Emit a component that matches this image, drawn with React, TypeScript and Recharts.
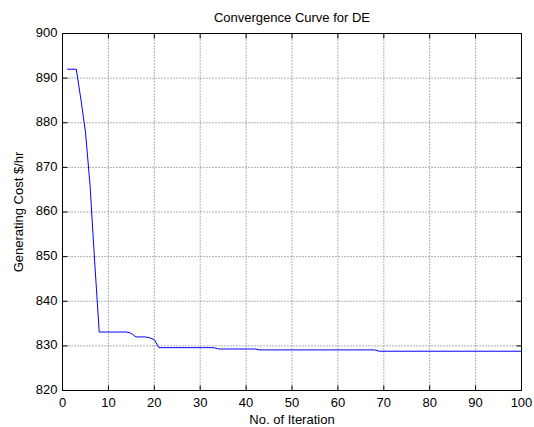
import { CartesianGrid, Label, Line, LineChart, XAxis, YAxis } from 'recharts';

// breakpoints of the convergence curve
const iterations = [1, 3, 4, 5, 6, 7, 8, 14, 15, 16, 18, 19, 20, 21, 33, 34, 42, 43, 68, 69, 100];
const costs = [
    892, 892, 885.3, 878, 866, 849, 833.1, 833.1, 832.8, 832.0, 832.0, 831.8, 831.4, 829.6, 829.6, 829.3, 829.3, 829.1, 829.1,
    828.8, 828.8,
];

const xTicks = [0, 10, 20, 30, 40, 50, 60, 70, 80, 90, 100];
const yTicks = [820, 830, 840, 850, 860, 870, 880, 890, 900];

const title = 'Convergence Curve for DE';
const xLabel = 'No. of Iteration';
const yLabel = 'Generating Cost $/hr';

const data = iterations.map((iteration, index) => ({ iteration, cost: costs[index] }));

const font = '"Liberation Sans", Arial, sans-serif';
const tickLen = 5;

function BottomTick({ x, y, payload }: any) {
    return (
        <g>
            <line x1={x} y1={y} x2={x} y2={y - tickLen} stroke="#000" />
            <text x={x} y={y + 13} dominantBaseline="middle" textAnchor="middle" fontSize={13} fill="#000" fontFamily={font}>
                {payload.value}
            </text>
        </g>
    );
}

function LeftTick({ x, y, payload }: any) {
    return (
        <g>
            <line x1={x} y1={y} x2={x + tickLen} y2={y} stroke="#000" />
            <text x={x - 5} y={y} dominantBaseline="middle" textAnchor="end" fontSize={13} fill="#000" fontFamily={font}>
                {payload.value}
            </text>
        </g>
    );
}

function TopTick({ x, y }: any) {
    return <line x1={x} y1={y} x2={x} y2={y + tickLen} stroke="#000" />;
}

function RightTick({ x, y }: any) {
    return <line x1={x} y1={y} x2={x - tickLen} y2={y} stroke="#000" />;
}

export default function App() {
    return (
        <div style={{ position: 'absolute', left: 0, top: 0, width: 534, height: 427, background: '#fff' }}>
            <LineChart width={534} height={427} data={data} margin={{ top: 0, right: 0, bottom: 0, left: 0 }}>
                <CartesianGrid xAxisId="x" yAxisId="y" stroke="#666" strokeDasharray="1 2" />
                <XAxis
                    xAxisId="x"
                    dataKey="iteration"
                    type="number"
                    domain={[0, 100]}
                    ticks={xTicks}
                    allowDataOverflow
                    height={36.5}
                    tickSize={0}
                    tickMargin={0}
                    tickLine={false}
                    axisLine={{ stroke: '#000' }}
                    tick={<BottomTick />}
                    interval={0}
                >
                    <Label
                        content={({ viewBox }: any) => (
                            <text
                                x={viewBox.x + viewBox.width / 2}
                                y={420.5}
                                dominantBaseline="middle"
                                textAnchor="middle"
                                fontSize={13}
                                fill="#000"
                                fontFamily={font}
                            >
                                {xLabel}
                            </text>
                        )}
                    />
                </XAxis>
                <XAxis
                    xAxisId="top"
                    orientation="top"
                    dataKey="iteration"
                    type="number"
                    domain={[0, 100]}
                    ticks={xTicks}
                    allowDataOverflow
                    height={33.5}
                    tickSize={0}
                    tickMargin={0}
                    tickLine={false}
                    axisLine={{ stroke: '#000' }}
                    tick={<TopTick />}
                    interval={0}
                >
                    <Label
                        content={({ viewBox }: any) => (
                            <text
                                x={viewBox.x + viewBox.width / 2}
                                y={19}
                                dominantBaseline="middle"
                                textAnchor="middle"
                                fontSize={13}
                                fill="#000"
                                fontFamily={font}
                            >
                                {title}
                            </text>
                        )}
                    />
                </XAxis>
                <YAxis
                    yAxisId="y"
                    dataKey="cost"
                    type="number"
                    domain={[820, 900]}
                    ticks={yTicks}
                    allowDataOverflow
                    width={62.5}
                    tickSize={0}
                    tickMargin={0}
                    tickLine={false}
                    axisLine={{ stroke: '#000' }}
                    tick={<LeftTick />}
                    interval={0}
                >
                    <Label
                        content={({ viewBox }: any) => {
                            const cy = viewBox.y + viewBox.height / 2;
                            return (
                                <text
                                    x={20}
                                    y={cy}
                                    transform={`rotate(-90 20 ${cy})`}
                                    dominantBaseline="middle"
                                    textAnchor="middle"
                                    fontSize={13}
                                    fill="#000"
                                    fontFamily={font}
                                >
                                    {yLabel}
                                </text>
                            );
                        }}
                    />
                </YAxis>
                <YAxis
                    yAxisId="right"
                    orientation="right"
                    dataKey="cost"
                    type="number"
                    domain={[820, 900]}
                    ticks={yTicks}
                    allowDataOverflow
                    width={12.5}
                    tickSize={0}
                    tickMargin={0}
                    tickLine={false}
                    axisLine={{ stroke: '#000' }}
                    tick={<RightTick />}
                    interval={0}
                />
                <Line
                    xAxisId="x"
                    yAxisId="y"
                    type="linear"
                    dataKey="cost"
                    stroke="#0000ff"
                    strokeWidth={1}
                    dot={false}
                    activeDot={false}
                    isAnimationActive={false}
                />
            </LineChart>
        </div>
    );
}
